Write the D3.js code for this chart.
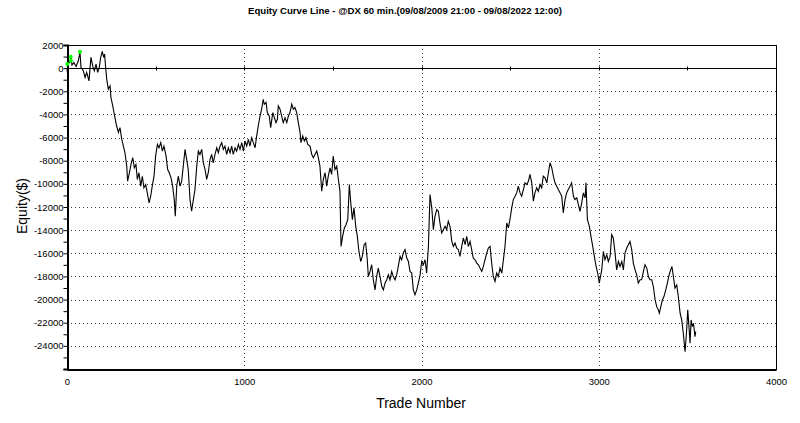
<!DOCTYPE html>
<html>
<head>
<meta charset="utf-8">
<script src="https://cdn.jsdelivr.net/npm/d3@7"></script>
<style>
  body { margin: 0; background: #fff; }
  svg { display: block; font-family: Arial, "Liberation Sans", sans-serif; }
  .ticklabel { font-size: 9.5px; fill: #000; }
  .grid { stroke: #444; stroke-width: 1; stroke-dasharray: 1,3; }
</style>
</head>
<body>
<svg id="chart" width="800" height="423"></svg>
<script>
// trade number / equity
var trades = [0, 2, 6, 17, 22, 28, 39, 51, 64, 73, 79, 92, 102, 111, 124, 135, 145, 154, 164, 173,
  182, 190, 199, 207, 212, 218, 224, 233, 243, 248, 258, 267, 280, 290, 299, 309, 318, 327, 337, 342,
  352, 361, 371, 380, 389, 397, 406, 416, 425, 434, 444, 453, 463, 472, 481, 491, 500, 510, 519, 529,
  538, 547, 559, 568, 577, 587, 596, 605, 611, 619, 628, 638, 647, 656, 666, 675, 684, 694, 703, 713,
  722, 732, 741, 750, 760, 769, 779, 788, 797, 807, 816, 825, 835, 845, 854, 863, 873, 882, 891, 901,
  910, 920, 929, 938, 948, 957, 967, 976, 986, 995, 1004, 1014, 1023, 1032, 1042, 1051, 1061, 1070, 1079, 1089,
  1098, 1107, 1113, 1123, 1130, 1141, 1149, 1161, 1170, 1179, 1187, 1192, 1202, 1211, 1220, 1230, 1240, 1249, 1258, 1268,
  1277, 1286, 1296, 1305, 1315, 1320, 1330, 1339, 1348, 1358, 1371, 1381, 1390, 1399, 1409, 1418, 1427, 1437, 1446, 1456,
  1465, 1474, 1484, 1493, 1502, 1512, 1522, 1531, 1540, 1546, 1555, 1565, 1574, 1584, 1593, 1601, 1610, 1619, 1629, 1638,
  1647, 1657, 1666, 1676, 1685, 1694, 1700, 1710, 1719, 1728, 1738, 1747, 1756, 1766, 1776, 1785, 1794, 1804, 1813, 1822,
  1832, 1841, 1851, 1860, 1869, 1879, 1888, 1897, 1907, 1917, 1926, 1935, 1945, 1954, 1963, 1973, 1982, 1992, 2001, 2010,
  2020, 2029, 2039, 2048, 2058, 2067, 2076, 2086, 2095, 2104, 2114, 2123, 2133, 2142, 2151, 2161, 2171, 2180, 2189, 2199,
  2208, 2217, 2227, 2236, 2246, 2255, 2264, 2274, 2283, 2292, 2302, 2312, 2321, 2330, 2340, 2349, 2358, 2368, 2377, 2387,
  2392, 2398, 2405, 2415, 2424, 2433, 2443, 2453, 2462, 2471, 2481, 2490, 2499, 2509, 2518, 2528, 2537, 2546, 2556, 2565,
  2575, 2584, 2594, 2603, 2612, 2622, 2631, 2640, 2650, 2659, 2669, 2678, 2687, 2697, 2707, 2716, 2725, 2735, 2744, 2753,
  2763, 2772, 2782, 2791, 2800, 2810, 2819, 2828, 2838, 2847, 2857, 2866, 2876, 2885, 2894, 2904, 2913, 2923, 2928, 2936,
  2947, 2956, 2966, 2975, 2985, 2994, 3003, 3017, 3026, 3035, 3045, 3054, 3064, 3073, 3082, 3092, 3101, 3111, 3120, 3130,
  3139, 3148, 3158, 3167, 3176, 3186, 3195, 3205, 3214, 3223, 3233, 3242, 3252, 3261, 3271, 3280, 3289, 3299, 3308, 3318,
  3327, 3336, 3342, 3350, 3359, 3368, 3378, 3387, 3397, 3406, 3413, 3421, 3430, 3440, 3449, 3459, 3468, 3477, 3487, 3496,
  3502, 3509, 3515, 3521, 3528, 3534, 3539, 3543, 3547];

var equity = [0, -370, 350, 550, 930, 260, 490, 150, 640, 1410, 60, -230, -810, -370, -1100, 930, 200, -230, 350, -370,
  60, 930, 1450, 930, 1210, 60, -950, -1820, -1530, -2540, -3270, -3990, -5000, -5550, -5140, -6160, -6740, -7310, -8470, -9770,
  -9040, -8320, -7740, -8610, -8320, -9620, -9040, -10200, -9340, -10340, -10060, -10780, -11640, -11070, -10200, -9340, -7600, -6590, -6880, -6440,
  -7170, -6740, -7600, -8760, -9040, -9480, -10200, -11360, -12800, -10200, -9340, -10200, -9770, -8470, -7020, -7890, -8760, -11360, -12370, -11360,
  -10490, -8470, -7170, -7460, -7020, -8180, -8760, -9620, -9040, -7890, -7460, -8180, -7460, -6880, -7310, -6740, -6440, -7020, -6740, -7460,
  -6880, -7310, -6740, -7460, -6880, -7170, -6590, -7020, -6440, -7170, -6300, -6740, -6160, -6740, -6010, -6440, -6880, -5870, -5000, -4140,
  -3550, -2690, -3120, -2970, -3840, -4140, -5140, -3840, -4270, -4710, -4420, -3270, -3550, -4140, -4710, -4270, -4710, -4140, -3840, -3120,
  -3550, -3410, -3840, -4710, -5570, -6440, -5870, -6300, -6010, -6590, -6740, -7460, -7740, -7460, -7170, -7740, -8470, -10640, -9620, -9040,
  -10200, -9340, -8610, -9190, -7600, -8760, -8470, -9620, -10640, -15410, -14540, -13810, -13530, -13090, -10060, -11640, -13090, -12080, -13670, -14540,
  -15840, -16710, -16270, -15260, -15110, -16560, -18010, -17570, -16990, -18290, -19160, -18010, -17280, -18010, -18870, -19160, -18580, -18290, -17860, -18290,
  -17570, -18010, -18290, -17860, -17140, -16270, -16560, -15980, -15690, -16410, -16710, -17570, -17710, -19160, -19590, -19160, -18580, -17860, -16710, -16990,
  -16560, -17710, -15410, -10920, -12080, -13960, -12810, -12220, -12370, -13380, -14250, -13960, -13670, -13960, -13240, -13670, -14970, -15410, -15110, -15550,
  -15690, -16270, -15410, -14680, -15260, -14540, -15410, -14970, -15690, -16410, -16560, -16850, -16990, -17280, -17570, -17140, -16560, -15980, -15550, -15410,
  -16270, -17140, -18010, -18440, -17710, -18010, -17280, -17710, -16560, -15410, -13380, -13810, -13090, -12080, -11360, -11070, -10780, -10200, -10780, -11070,
  -10490, -9910, -10060, -9770, -9190, -9910, -11500, -10780, -10340, -10640, -10060, -10340, -9340, -9480, -9910, -9040, -8180, -8610, -9340, -9910,
  -10200, -10490, -10780, -11070, -12510, -11360, -10780, -10490, -10200, -9910, -11070, -11360, -11210, -11790, -12370, -11640, -10780, -11210, -9910, -13090,
  -13670, -14540, -15410, -16270, -17140, -17710, -18580, -17430, -15840, -16560, -16130, -16710, -16270, -14390, -14680, -15980, -17430, -16710, -17140, -16710,
  -17430, -15980, -15550, -15260, -14970, -15690, -16850, -17430, -17860, -18580, -18290, -18290, -17570, -16990, -17280, -18010, -18290, -18290, -18870, -20030,
  -20610, -20890, -21180, -20610, -20030, -19740, -19160, -18580, -17860, -17430, -17140, -18010, -19010, -18730, -19740, -21180, -21760, -22910, -24510, -22630,
  -20890, -22340, -23780, -21760, -22340, -22050, -22630, -23210, -22770];

// new equity highs marked in green
var highTrades = [2, 21, 22, 73];
var highEquity = [350, 980, 630, 1410];

var yTicks = [2000, 0, -2000, -4000, -6000, -8000, -10000, -12000, -14000, -16000, -18000, -20000, -22000, -24000];
var xTicks = [0, 1000, 2000, 3000, 4000];

var svg = d3.select("#chart");
var plotLeft = 67, plotRight = 776, plotTop = 45, plotBottom = 369;

var x = d3.scaleLinear().domain([0, 4000]).range([plotLeft, plotRight]);
var y = d3.scaleLinear().domain([-26000, 2000]).range([plotBottom, plotTop]);

// title
svg.append("text")
  .attr("x", 405).attr("y", 14)
  .attr("text-anchor", "middle")
  .style("font-size", "9.6px").style("font-weight", "bold")
  .text("Equity Curve Line - @DX 60 min.(09/08/2009 21:00 - 09/08/2022 12:00)");

// dotted grid
svg.append("g").selectAll("line")
  .data(yTicks.filter(function(d) { return d != 0 && d != 2000; }))
  .enter().append("line")
  .attr("class", "grid")
  .attr("x1", plotLeft).attr("x2", plotRight)
  .attr("y1", function(d) { return Math.round(y(d)) + 0.5; })
  .attr("y2", function(d) { return Math.round(y(d)) + 0.5; });

svg.append("g").selectAll("line")
  .data([1000, 2000, 3000])
  .enter().append("line")
  .attr("class", "grid")
  .attr("y1", plotTop).attr("y2", plotBottom)
  .attr("x1", function(d) { return Math.round(x(d)) + 0.5; })
  .attr("x2", function(d) { return Math.round(x(d)) + 0.5; });

// zero line with little ticks every 500 trades
var zy = Math.round(y(0)) + 0.5;
svg.append("line")
  .attr("x1", plotLeft).attr("x2", plotRight)
  .attr("y1", zy).attr("y2", zy)
  .attr("stroke", "#000").attr("stroke-width", 1);
svg.append("g").selectAll("line")
  .data(d3.range(500, 4000, 500))
  .enter().append("line")
  .attr("x1", function(d) { return Math.round(x(d)) + 0.5; })
  .attr("x2", function(d) { return Math.round(x(d)) + 0.5; })
  .attr("y1", zy - 2).attr("y2", zy + 2)
  .attr("stroke", "#000");

// frame
svg.append("rect")
  .attr("x", plotLeft + 0.5).attr("y", plotTop + 0.5)
  .attr("width", plotRight - plotLeft).attr("height", plotBottom - plotTop)
  .attr("fill", "none").attr("stroke", "#000").attr("stroke-width", 1);

// y axis
var yAxis = d3.axisLeft(y)
  .tickValues(d3.range(-26000, 2001, 1000))
  .tickSize(4)
  .tickFormat(function(d) { return yTicks.indexOf(d) >= 0 ? d : ""; });
var gy = svg.append("g")
  .attr("transform", "translate(" + (plotLeft + 0.5) + ",0)")
  .call(yAxis);
gy.attr("font-size", null).attr("font-family", null);
gy.select(".domain").attr("stroke-width", 2);
gy.selectAll("text").attr("class", "ticklabel").attr("x", -4);

// x axis
var xAxis = d3.axisBottom(x).tickValues(xTicks).tickSize(0).tickPadding(9).tickFormat(d3.format("d"));
var gx = svg.append("g")
  .attr("transform", "translate(0," + (plotBottom + 0.5) + ")")
  .call(xAxis);
gx.attr("font-size", null).attr("font-family", null);
gx.select(".domain").attr("stroke-width", 2);
gx.selectAll("text").attr("class", "ticklabel");

// axis titles
svg.append("text")
  .attr("transform", "translate(27,206) rotate(-90)")
  .attr("text-anchor", "middle")
  .style("font-size", "14px")
  .text("Equity($)");
svg.append("text")
  .attr("x", 421).attr("y", 408)
  .attr("text-anchor", "middle")
  .style("font-size", "14px")
  .text("Trade Number");

// equity curve
var line = d3.line()
  .x(function(d, i) { return x(trades[i]); })
  .y(function(d, i) { return y(equity[i]); });

svg.append("path")
  .datum(equity)
  .attr("d", line)
  .attr("fill", "none")
  .attr("stroke", "#000")
  .attr("stroke-width", 1.1);

svg.append("g").selectAll("circle")
  .data(highTrades)
  .enter().append("circle")
  .attr("cx", function(d) { return x(d); })
  .attr("cy", function(d, i) { return y(highEquity[i]); })
  .attr("r", 2)
  .attr("fill", "#00ff00");
</script>
</body>
</html>
